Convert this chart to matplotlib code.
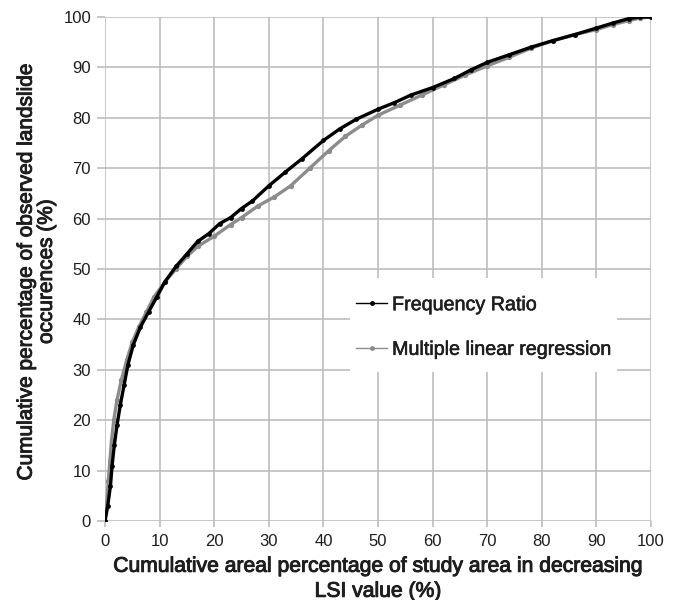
import matplotlib
matplotlib.use("Agg")
from matplotlib import pyplot as plt
from matplotlib.lines import Line2D
from matplotlib.patches import Rectangle
from matplotlib import patheffects as pe

plt.rcParams["font.family"] = ["Liberation Sans", "DejaVu Sans"]

# Frequency Ratio curve
fr_x = [0, 0.5, 1.0, 1.3, 1.7, 2.2, 2.8, 3.5, 4.2, 5.2, 6.5, 8.0, 9.5, 11, 13,
        15, 17, 19, 21, 23, 25, 27, 30, 33, 36, 40, 43, 46, 50, 53, 56, 60,
        64, 67, 70, 74, 78, 82, 86, 90, 93, 96, 98, 100]
fr_y = [0, 3, 7, 11, 15, 19, 23, 27, 31, 35, 38.5, 41.5, 44.5, 47.5, 50.5,
        53, 55.5, 57, 59, 60.2, 62, 63.5, 66.5, 69.2, 71.8, 75.5, 77.8, 79.7,
        81.7, 83, 84.5, 86, 87.8, 89.5, 91, 92.5, 94, 95.3, 96.5, 97.8, 98.8,
        99.7, 100, 100]

# Multiple linear regression curve
mlr_x = [0, 0.3, 0.6, 0.9, 1.2, 1.6, 2.2, 3.0, 4.0, 5.0, 6.2, 7.6, 9.0, 11,
         13, 15, 17, 20, 23, 25, 28, 31, 34, 37.5, 41, 44, 47, 50, 54, 58,
         62, 66, 70, 74, 78, 82, 86, 90, 93, 96, 98, 100]
mlr_y = [0, 3, 8, 12, 16, 20, 24, 28, 32, 35.5, 38.5, 41.5, 44.5, 47.5, 50,
         52.5, 54.5, 56.5, 58.8, 60.2, 62.5, 64.3, 66.5, 70, 73.5, 76.3, 78.5,
         80.5, 82.5, 84.5, 86.5, 88.5, 90.3, 92, 93.8, 95.3, 96.5, 97.5, 98.5,
         99.3, 99.8, 100]

x_ticks = list(range(0, 101, 10))
y_ticks = list(range(0, 101, 10))

grid_col = "#bdbdbd"
mlr_col = "#8c8c8c"
txt_col = "#1e1e1e"
bolden = [pe.withStroke(linewidth=0.7, foreground=txt_col)]

fig = plt.figure(figsize=(6.78, 6.0), dpi=100)
ax = fig.add_axes([105 / 678, 1 - 521 / 600, 546 / 678, 504 / 600])

ax.plot(mlr_x, mlr_y, color=mlr_col, lw=2.4, marker="o", ms=2.8,
        mec=mlr_col, mfc=mlr_col, zorder=3)
ax.plot(fr_x, fr_y, color="black", lw=2.4, marker="o", ms=2.4,
        mec="black", mfc="black", zorder=4)

ax.set_xlim(0, 100)
ax.set_ylim(0, 100)
ax.set_xticks(x_ticks)
ax.set_yticks(y_ticks)
ax.grid(True, color=grid_col, lw=1.2)
ax.set_axisbelow(True)
for s in ax.spines.values():
    s.set_visible(False)
ax.tick_params(axis="both", color=grid_col, width=1.2, labelsize=12,
               labelcolor=txt_col)
ax.tick_params(axis="y", length=6, pad=4)
ax.tick_params(axis="x", length=4.5, pad=5)

ax.set_xlabel("Cumulative areal percentage of study area in decreasing\nLSI value (%)",
              fontsize=15.2, color=txt_col, linespacing=1.4,
              path_effects=bolden)
ax.xaxis.set_label_coords(0.5, -0.071)
ax.set_ylabel("Cumulative percentage of observed landslide\noccurences (%)",
              fontsize=15, color=txt_col, linespacing=1.08,
              path_effects=bolden)
ax.yaxis.set_label_coords(-0.09, 0.495)

# white box behind the legend, hiding the grid there
ax.add_patch(Rectangle((0.449, 0.296), 0.489, 0.186, transform=ax.transAxes,
                       facecolor="white", edgecolor="none", zorder=2))

handles = [
    Line2D([], [], color="black", lw=1, marker="o", ms=2.5),
    Line2D([], [], color=mlr_col, lw=1, marker="o", ms=2.5),
]
leg = ax.legend(handles, ["Frequency Ratio", "Multiple linear regression"],
                loc="upper left", bbox_to_anchor=(0.46, 0.448), numpoints=1,
                fontsize=14.2, frameon=False, handlelength=1.57,
                handletextpad=0.25, labelspacing=1.3, borderpad=0,
                borderaxespad=0)
for t in leg.get_texts():
    t.set_color(txt_col)
    t.set_path_effects([pe.withStroke(linewidth=0.4, foreground=txt_col)])

fig.savefig("out.png", dpi=100)
